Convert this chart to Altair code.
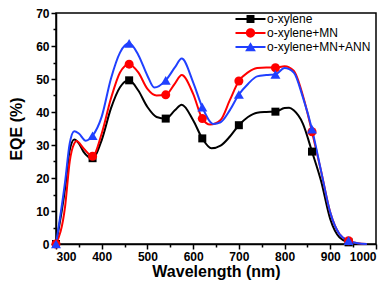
import altair as alt
import pandas as pd

series_names = ["o-xylene", "o-xylene+MN", "o-xylene+MN+ANN"]
series_colors = ["#000000", "#FF0000", "#2040FF"]
series_shapes = ["square", "circle", "triangle-up"]
series_sizes = [64, 81, 100]

wl_a = [300, 320, 330, 340, 350, 360, 380, 400, 420, 440, 460, 480, 500, 520, 540, 560, 575, 600,
        620, 640, 660, 680, 700, 720, 740, 760, 780, 800, 810, 820, 840, 860, 880, 900, 920, 940, 960]
eqe_a = [0, 17, 28.5, 31.7, 30.5, 28, 26, 31.5, 41, 47.5, 49.6, 46.5, 41.5, 38.5, 38, 40.5, 42.2, 37.5,
         32, 29, 29.8, 32.5, 36, 38.5, 39.8, 40, 40.1, 41.2, 41.3, 40.5, 36.5, 28, 19, 7.5, 2, 0.5, 0]

wl_b = [300, 320, 330, 340, 345, 360, 380, 400, 420, 440, 460, 480, 500, 520, 540, 560, 575, 600,
        620, 637, 660, 680, 700, 720, 740, 760, 780, 800, 820, 840, 860, 880, 900, 920, 940, 960, 980]
eqe_b = [0, 11.5, 25, 30.5, 31.2, 29, 26.6, 33.5, 44, 52, 54.5, 52, 47, 45, 45.2, 48.6, 51.2, 45.5,
         38, 36.2, 37.6, 43.5, 49.4, 52, 53.3, 53.5, 53.4, 53.9, 52.5, 45, 34, 22, 9.5, 3, 1, 0.2, 0]

wl_c = [300, 320, 330, 340, 350, 365, 380, 400, 420, 440, 460, 480, 500, 515, 540, 560, 575, 600,
        620, 644, 660, 680, 700, 720, 740, 760, 780, 800, 820, 840, 860, 880, 900, 920, 940, 960, 980]
eqe_c = [0, 19, 30.5, 34.2, 33.5, 31.3, 32.8, 38.6, 50, 58, 60.8, 57.3, 51, 47.4, 49.6, 53.5, 56.2, 49,
         41.5, 36.4, 36.9, 40.5, 45.3, 48.5, 50.8, 51.2, 51.4, 53.3, 52, 44.5, 34.8, 22, 9.5, 3, 1, 0.2, 0]

x_major = [300, 400, 500, 600, 700, 800, 900, 1000]
x_minor = [350, 450, 550, 650, 750, 850, 950]
y_major = [0, 10, 20, 30, 40, 50, 60, 70]
y_minor = [5, 15, 25, 35, 45, 55, 65]

rows = []
for name, wls, vals in zip(series_names, [wl_a, wl_b, wl_c], [eqe_a, eqe_b, eqe_c]):
    for w, v in zip(wls, vals):
        rows.append({"series": name, "wl": w, "eqe": v})
df = pd.DataFrame(rows)

FONT = "Liberation Sans"
xs = alt.Scale(domain=[300, 1000], nice=False, zero=False)
ys = alt.Scale(domain=[0, 70], nice=False)
color_scale = alt.Scale(domain=series_names, range=series_colors)

# legend glyphs: a short line with the series marker on top
line_path = "M-2,-0.13H2V0.13H-2Z"
sq = line_path + "M-0.53,-0.53H0.53V0.53H-0.53Z"
ci = line_path + "M0.62,0A0.62,0.62 0 1,1 -0.62,0A0.62,0.62 0 1,1 0.62,0Z"
tr = line_path + "M0,-0.64L0.72,0.56L-0.72,0.56Z"
legend_shapes = [sq, ci, tr]

major_x = alt.Axis(values=x_major, format="d", title="Wavelength (nm)", orient="bottom", tickSize=5,
                   labelPadding=2, titlePadding=1, labelFont=FONT, labelFontSize=12,
                   labelFontWeight="bold", titleFont=FONT, titleFontSize=16, titleFontWeight="bold",
                   grid=False, domainColor="black", tickColor="black", labelColor="black",
                   titleColor="black", domainWidth=1.5, tickWidth=1.5)
minor_x = alt.Axis(values=x_minor, title=None, orient="bottom", tickSize=3, labels=False,
                   domain=False, grid=False, tickColor="black", tickWidth=1.5)
major_y = alt.Axis(values=y_major, title="EQE (%)", orient="left", tickSize=5,
                   labelPadding=2, titlePadding=11, labelFont=FONT, labelFontSize=12,
                   labelFontWeight="bold", titleFont=FONT, titleFontSize=16, titleFontWeight="bold",
                   grid=False, domainColor="black", tickColor="black", labelColor="black",
                   titleColor="black", domainWidth=1.5, tickWidth=1.5)
minor_y = alt.Axis(values=y_minor, title=None, orient="left", tickSize=3, labels=False,
                   domain=False, grid=False, tickColor="black", tickWidth=1.5)

legend = alt.Legend(
    title=None, orient="none", legendX=187, legendY=-1.5, padding=0, rowPadding=0,
    symbolSize=225, labelOffset=9, labelFont=FONT, labelFontSize=12, labelColor="black",
    symbolStrokeWidth=0, symbolOpacity=1,
)

base = alt.Chart(df)
layers = []
for i, (name, col) in enumerate(zip(series_names, series_colors)):
    sub = base.transform_filter(alt.datum.series == name)
    layers.append(
        sub.mark_line(interpolate="monotone", strokeWidth=2, color=col).encode(
            x=alt.X("wl:Q", scale=xs, axis=major_x if i == 0 else None),
            y=alt.Y("eqe:Q", scale=ys, axis=major_y if i == 0 else None),
        )
    )
for i, (name, col, shp, sz) in enumerate(zip(series_names, series_colors, series_shapes, series_sizes)):
    sub = base.transform_filter(alt.datum.series == name)
    layers.append(
        sub.transform_filter("(datum.wl - 300) % 80 == 0")
        .mark_point(filled=True, opacity=1, shape=shp, size=sz, color=col)
        .encode(
            x=alt.X("wl:Q", scale=xs, axis=minor_x if i == 0 else None),
            y=alt.Y("eqe:Q", scale=ys, axis=minor_y if i == 0 else None),
        )
    )

# legend-only layer (no marks drawn; entries come from the explicit scale domains)
legend_layer = base.transform_filter("datum.wl < 0").mark_point(filled=True, opacity=1).encode(
    x=alt.X("wl:Q", scale=xs, axis=None),
    y=alt.Y("eqe:Q", scale=ys, axis=None),
    color=alt.Color("series:N", scale=color_scale, legend=legend),
    shape=alt.Shape("series:N", scale=alt.Scale(domain=series_names, range=legend_shapes), legend=legend),
)
layers.append(legend_layer)

chart = alt.layer(*layers).resolve_axis(
    x="independent", y="independent"
).properties(
    width=320, height=231, autosize="none",
    padding={"left": 48, "top": 5, "right": 8, "bottom": 36},
).configure_view(stroke="black", strokeWidth=1.5)

chart.save("out.html", embed_options={"renderer": "svg", "actions": False})
